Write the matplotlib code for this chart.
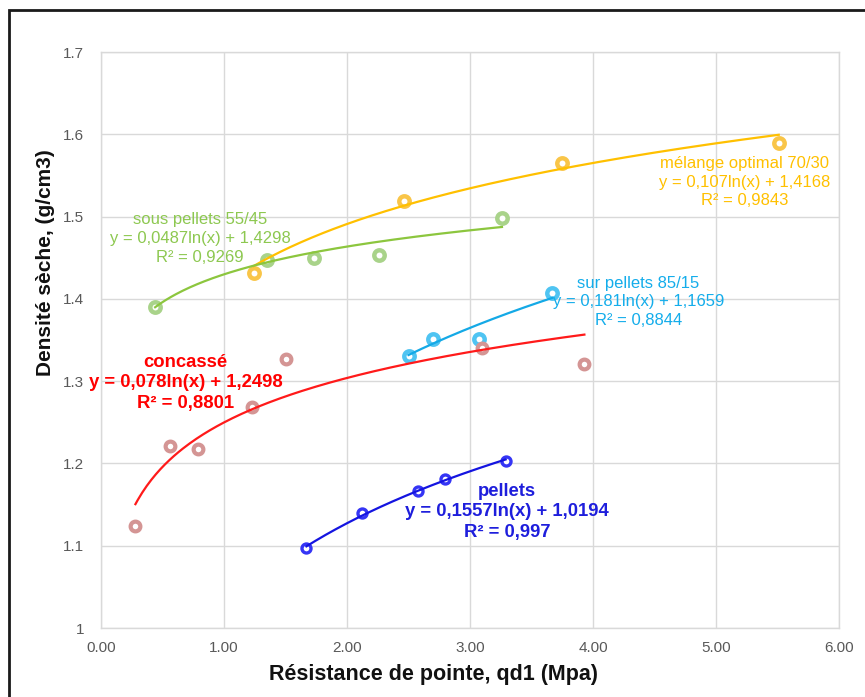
import matplotlib
matplotlib.use("Agg")
import matplotlib.pyplot as plt
import numpy as np
from matplotlib.patches import Rectangle

plt.rcParams['font.family'] = ['Liberation Sans', 'DejaVu Sans']

# --- data -------------------------------------------------------------
melange_x = [1.24, 2.46, 3.75, 5.51]
melange_y = [1.432, 1.519, 1.565, 1.589]

sous_x = [0.44, 1.35, 1.73, 2.26, 3.26]
sous_y = [1.390, 1.447, 1.450, 1.453, 1.498]

sur_x = [2.50, 2.70, 3.07, 3.67]
sur_y = [1.331, 1.351, 1.351, 1.407]

concasse_x = [0.28, 0.56, 0.79, 1.23, 1.50, 3.10, 3.93]
concasse_y = [1.124, 1.221, 1.218, 1.269, 1.327, 1.340, 1.321]

pellets_x = [1.67, 2.12, 2.58, 2.80, 3.29]
pellets_y = [1.097, 1.140, 1.166, 1.181, 1.203]

# logarithmic trend coefficients (a, b) for y = a ln(x) + b
melange_fit = (0.107, 1.4168)
sous_fit = (0.0487, 1.4298)
sur_fit = (0.181, 1.1659)
concasse_fit = (0.078, 1.2498)
pellets_fit = (0.1557, 1.0194)

x_ticks = [0, 1, 2, 3, 4, 5, 6]
x_tick_labels = ["0.00", "1.00", "2.00", "3.00", "4.00", "5.00", "6.00"]
y_ticks = [1.0, 1.1, 1.2, 1.3, 1.4, 1.5, 1.6, 1.7]
y_tick_labels = ["1", "1.1", "1.2", "1.3", "1.4", "1.5", "1.6", "1.7"]

# --- figure -------------------------------------------------------------
fig = plt.figure(figsize=(8.65, 6.97), dpi=100)
fig.patch.set_facecolor("white")
ax = fig.add_axes([101 / 865, 1 - 628 / 697, 738 / 865, 576 / 697])

# outer frame
fig.patches.append(Rectangle((9 / 865, -0.05), 1.2, 1 - 10 / 697 + 0.05,
                             transform=fig.transFigure, fill=False,
                             edgecolor="#1a1a1a", linewidth=2.0, zorder=0))

series = [
    (melange_x, melange_y, melange_fit, "#F9C548", "#FFC000", 7.5, 3.2),
    (sous_x, sous_y, sous_fit, "#A9D38A", "#8CC63E", 7.5, 3.2),
    (sur_x, sur_y, sur_fit, "#4FC4F2", "#14A9E6", 7.5, 3.2),
    (concasse_x, concasse_y, concasse_fit, "#D49594", "#FF1A1A", 7.0, 3.0),
    (pellets_x, pellets_y, pellets_fit, "#3535F5", "#1414E0", 6.5, 2.4),
]

for xs, ys, (a, b), mcol, lcol, ms, mew in series:
    ax.plot(xs, ys, linestyle="none", marker="o", markersize=ms,
            markerfacecolor="white", markeredgecolor=mcol,
            markeredgewidth=mew, zorder=3)
    xt = np.linspace(min(xs), max(xs), 200)
    ax.plot(xt, a * np.log(xt) + b, color=lcol, linewidth=1.6, zorder=4)

# equation labels
ax.text(0.805, 1.4728, "sous pellets 55/45\ny = 0,0487ln(x) + 1,4298\nR² = 0,9269",
        color="#8DC850", fontsize=12, ha="center", va="center",
        linespacing=1.33, zorder=5)
ax.text(0.687, 1.298, "concassé\ny = 0,078ln(x) + 1,2498\nR² = 0,8801",
        color="#FF0000", fontsize=13.3, fontweight="bold", ha="center",
        va="center", linespacing=1.27, zorder=5)
ax.text(5.23, 1.5420, "mélange optimal 70/30\ny = 0,107ln(x) + 1,4168\nR² = 0,9843",
        color="#FFC000", fontsize=12, ha="center", va="center",
        linespacing=1.27, zorder=5)
ax.text(4.37, 1.3962, "sur pellets 85/15\ny = 0,181ln(x) + 1,1659\nR² = 0,8844",
        color="#14ADEB", fontsize=12, ha="center", va="center",
        linespacing=1.27, zorder=5)
ax.text(3.30, 1.1410, "pellets\ny = 0,1557ln(x) + 1,0194\nR² = 0,997",
        color="#1E1EDC", fontsize=13.3, fontweight="bold", ha="center",
        va="center", linespacing=1.3, zorder=5)

# axes styling
ax.set_xlim(0, 6)
ax.set_ylim(1.0, 1.7)
ax.set_xticks(x_ticks)
ax.set_xticklabels(x_tick_labels)
ax.set_yticks(y_ticks)
ax.set_yticklabels(y_tick_labels)
ax.tick_params(length=0, labelsize=11, labelcolor="#595959")
ax.tick_params(axis="x", pad=9)
ax.tick_params(axis="y", pad=12)
ax.grid(True, color="#D9D9D9", linewidth=1.0, zorder=0)
ax.set_axisbelow(True)
for sp in ax.spines.values():
    sp.set_color("#D9D9D9")
    sp.set_linewidth(1.0)

ax.set_xlabel("Résistance de pointe, qd1 (Mpa)", fontsize=15.5,
              fontweight="bold", color="#111111")
ax.xaxis.set_label_coords(0.45, -0.063)
ax.set_ylabel("Densité sèche, (g/cm3)", fontsize=15, fontweight="bold",
              color="#111111")
ax.yaxis.set_label_coords(-0.062, 0.635)

fig.savefig("out.png", dpi=100, facecolor="white")
